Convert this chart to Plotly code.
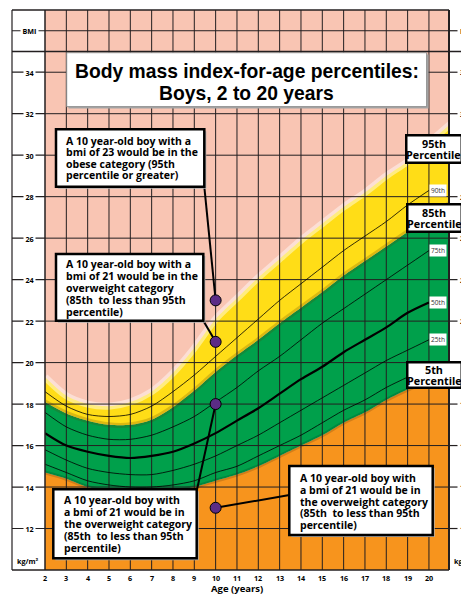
import plotly.graph_objects as go

# ---------------- data ----------------
line_ages = list(range(2, 21))          # ages for percentile curves
band_ages = list(range(2, 22))          # colour bands run to the chart edge
p5_band  = [14.7, 14.4, 14.0, 13.8, 13.7, 13.7, 13.8, 14.0, 14.3, 14.6, 15.0, 15.5, 16.0, 16.5, 17.1, 17.6, 18.2, 18.7, 19.1, 19.6]
p85_band = [18.1, 17.55, 17.2, 17.0, 17.0, 17.25, 17.85, 18.65, 19.55, 20.35, 21.1, 21.9, 22.65, 23.4, 24.2, 24.9, 25.6, 26.3, 27.0, 27.7]
p95_band = [19.3, 18.4, 18.0, 17.9, 18.1, 18.6, 19.5, 20.7, 22.1, 23.1, 24.1, 25.0, 25.9, 26.7, 27.5, 28.2, 29.0, 29.7, 30.6, 31.5]
p10 = [15.1, 14.7, 14.3, 14.1, 14.0, 14.0, 14.1, 14.3, 14.7, 15.0, 15.5, 16.0, 16.5, 17.1, 17.7, 18.2, 18.8, 19.3, 19.8]
p25 = [15.8, 15.3, 14.9, 14.7, 14.6, 14.6, 14.8, 15.1, 15.5, 16.0, 16.5, 17.1, 17.7, 18.3, 18.9, 19.5, 20.1, 20.6, 21.1]
p50 = [16.6, 16.0, 15.7, 15.5, 15.4, 15.5, 15.7, 16.1, 16.6, 17.2, 17.8, 18.5, 19.2, 19.8, 20.5, 21.1, 21.7, 22.4, 22.9]
p75 = [17.6, 16.9, 16.5, 16.3, 16.3, 16.5, 16.9, 17.4, 18.1, 18.8, 19.6, 20.3, 21.1, 21.9, 22.6, 23.3, 24.0, 24.7, 25.4]
p90 = [18.6, 17.9, 17.5, 17.4, 17.5, 17.9, 18.6, 19.4, 20.3, 21.2, 22.1, 23.0, 23.8, 24.6, 25.4, 26.1, 26.8, 27.6, 28.3]

example_ages = [10, 10, 10, 10]
example_bmi = [23, 21, 18, 13]

age_ticks = list(range(2, 21))
bmi_ticks = list(range(12, 36, 2))
bmi_label_row = 36
small_labels = ["90th", "75th", "50th", "25th"]

callouts = [
    ["A 10 year-old boy with a", "bmi of 23 would be in the", "obese category (95th", "percentile or greater)"],
    ["A 10 year-old boy with a", "bmi of 21 would be in the", "overweight category", "(85th  to less than 95th", "percentile)"],
    ["A 10 year-old boy with", "a bmi of 21 would be in", "the overweight category", "(85th  to less than 95th", "percentile)"],
    ["A 10 year-old boy with", "a bmi of 21 would be in", "the overweight category", "(85th  to less than 95th", "percentile)"],
]
title_lines = ["Body mass index-for-age percentiles:", "Boys, 2 to 20 years"]

# ---------------- style / layout ----------------
OFF = 8                      # page body margin of the html page
W, H = 469 - OFF, 594 - OFF
PL, PT = 45, 10              # plot area top-left in page pixels
PW, PH = 404, 560
L, T = PL - OFF, PT - OFF
R, B = W - L - PW, H - T - PH
X0, X1 = 2, 20.94
Y0, Y1 = 10, 37

PINK = "#F9C5B3"
YELLOW = "#FFDD17"
GREEN = "#00A04B"
ORANGE = "#F7941D"
INK = "#231F20"
PURPLE = "#5B2C86"
FONT = "Open Sans"


def px(xp):  # page pixel x -> paper
    return (xp - PL) / PW


def py(yp):  # page pixel y -> paper
    return (PT + PH - yp) / PH


def dx(xp):  # page pixel x -> age
    return X0 + (xp - PL) / PW * (X1 - X0)


def dy(yp):  # page pixel y -> BMI
    return Y1 - (yp - PT) / PH * (Y1 - Y0)


fig = go.Figure()
spl = dict(shape="spline", smoothing=0.8)
fig.add_trace(go.Scatter(x=band_ages, y=p5_band, mode="lines", fill="tozeroy", fillcolor=ORANGE,
                         line=dict(width=0, color=ORANGE, **spl), hoverinfo="skip"))
fig.add_trace(go.Scatter(x=band_ages, y=p85_band, mode="lines", fill="tonexty", fillcolor=GREEN,
                         line=dict(width=0, color=GREEN, **spl), hoverinfo="skip"))
fig.add_trace(go.Scatter(x=band_ages, y=p95_band, mode="lines", fill="tonexty", fillcolor=YELLOW,
                         line=dict(width=0, color=YELLOW, **spl), hoverinfo="skip"))

# soft edges of the colour bands
for vals, col, w in [(p95_band, "rgba(255,255,255,0.45)", 7),
                     (p85_band, "rgba(90,60,0,0.22)", 5),
                     (p5_band, "rgba(0,0,0,0.15)", 4)]:
    fig.add_trace(go.Scatter(x=band_ages, y=vals, mode="lines",
                             line=dict(width=w, color=col, **spl), hoverinfo="skip"))

# grid (drawn on top of the bands)
gx, gy = [], []
for a in age_ticks[1:]:
    gx += [a, a, None]
    gy += [Y0, Y1, None]
for b in bmi_ticks + [bmi_label_row]:
    gx += [X0, X1, None]
    gy += [b, b, None]
fig.add_trace(go.Scatter(x=gx, y=gy, mode="lines", line=dict(color=INK, width=1), hoverinfo="skip"))

for vals, w in [(p10, 0.8), (p25, 0.8), (p75, 0.8), (p90, 0.8), (p50, 2.2)]:
    fig.add_trace(go.Scatter(x=line_ages, y=vals, mode="lines",
                             line=dict(color="#000", width=w, **spl), hoverinfo="skip"))

shapes = []
annotations = []

# connectors from callout boxes to the points
conn_start = [(204.3, 186.7), (203.3, 320.7), (197.0, 489.5), (289.5, 495.0)]
for (sx, sy), a, b in zip(conn_start, example_ages, example_bmi):
    fig.add_trace(go.Scatter(x=[dx(sx), a], y=[dy(sy), b], mode="lines",
                             line=dict(color="#000", width=2), hoverinfo="skip"))

fig.add_trace(go.Scatter(x=example_ages, y=example_bmi, mode="markers",
                         marker=dict(size=11, color=PURPLE, line=dict(color="#000", width=1)),
                         hoverinfo="skip"))


def rect(x0, y0, x1, y1, lw=2.5, fill="white", col="#000"):
    shapes.append(dict(type="rect", xref="paper", yref="paper", x0=px(x0), x1=px(x1), y0=py(y0), y1=py(y1),
                       fillcolor=fill, line=dict(color=col, width=lw), layer="above"))


def hline(x0, x1, yv, lw=1.2):
    shapes.append(dict(type="line", xref="paper", yref="y", x0=px(x0), x1=px(x1), y0=yv, y1=yv,
                       line=dict(color=INK, width=lw), layer="above"))


def vline(xp, y0p, y1p, lw=1.5):
    shapes.append(dict(type="line", xref="paper", yref="paper", x0=px(xp), x1=px(xp), y0=py(y0p), y1=py(y1p),
                       line=dict(color=INK, width=lw), layer="above"))


# frame
vline(12, 10, 570, 1.2)
vline(45, 10, 570, 1.5)
vline(449, 10, 570, 2)
shapes.append(dict(type="line", xref="paper", yref="paper", x0=px(12), x1=px(449), y0=1, y1=1,
                   line=dict(color=INK, width=1.5), layer="above"))
shapes.append(dict(type="line", xref="paper", yref="paper", x0=px(12), x1=px(449), y0=0, y1=0,
                   line=dict(color=INK, width=1.5), layer="above"))
hline(12, 469, 35, lw=1.5)

# tick dashes
for b in bmi_ticks + [bmi_label_row]:
    hline(12, 45, b)
    hline(449, 457.5, b)

# title box
rect(68.5, 54.5, 428.5, 108.5, lw=0, fill="#a8a8a8")
rect(66.7, 52.7, 426.7, 106.7, lw=1, fill="white", col="#888")

# callout boxes
box_px = [(56, 129.3, 204.3, 186.7), (56, 254, 203.3, 320.7), (53.3, 489.3, 196.7, 558.3), (289.3, 466, 432.7, 535)]
for (x0, y0, x1, y1) in box_px:
    rect(x0 + 2, y0 + 2, x1 + 2, y1 + 2, lw=0, fill="#b0b0b0")
    rect(x0, y0, x1, y1, lw=2.5)

text_pos = [(64, 140.7, 11.45), (64, 264, 11.9), (61.7, 500, 12.1), (297.7, 478, 11.75)]
for lines, (tx, ty, sp) in zip(callouts, text_pos):
    for i, t in enumerate(lines):
        annotations.append(dict(xref="paper", yref="paper", x=px(tx), y=py(ty + i * sp), text=t,
                                xanchor="left", yanchor="middle", showarrow=False,
                                font=dict(family=FONT, size=10.5, color="#000", weight="bold")))

# title text
for t, ty in zip(title_lines, [71.5, 93]):
    annotations.append(dict(xref="paper", yref="paper", x=px(246.7), y=py(ty), text=t, showarrow=False,
                            xanchor="center", yanchor="middle",
                            font=dict(family="Liberation Sans", size=19.3, color="#000", weight="bold")))

tick_font = dict(family=FONT, size=7.2, color="#000", weight="bold")
# axis labels
for b in bmi_ticks + [bmi_label_row]:
    t = "BMI" if b == bmi_label_row else str(b)
    annotations.append(dict(xref="paper", yref="y", x=px(29), y=b, text=t, showarrow=False,
                            xanchor="center", yanchor="middle", bgcolor="white", borderpad=1.5,
                            font=tick_font))
    annotations.append(dict(xref="paper", yref="y", x=px(459), y=b, text=t, showarrow=False,
                            xanchor="left", yanchor="middle", bgcolor="white", borderpad=0,
                            font=tick_font))
annotations.append(dict(xref="paper", yref="paper", x=px(28), y=py(560.5), text="kg/m²", showarrow=False,
                        xanchor="center", yanchor="middle", font=tick_font))
annotations.append(dict(xref="paper", yref="paper", x=px(452), y=py(561), text="kg/m²", showarrow=False,
                        xanchor="left", yanchor="middle", font=tick_font))
for a in age_ticks:
    annotations.append(dict(xref="x", yref="paper", x=a, y=py(577.5), text=str(a), showarrow=False,
                            xanchor="center", yanchor="middle", font=tick_font))
annotations.append(dict(xref="x", yref="paper", x=11, y=py(588.5), text="Age (years)", showarrow=False,
                        xanchor="center", yanchor="middle",
                        font=dict(family=FONT, size=9.5, color="#000", weight="bold")))

# percentile end labels
for lab, vals in zip(small_labels, [p90, p75, p50, p25]):
    annotations.append(dict(xref="paper", yref="y", x=px(437.5), y=vals[-1], text=lab, showarrow=False,
                            xanchor="center", yanchor="middle", bgcolor="white", borderpad=1,
                            font=dict(family=FONT, size=6.6, color="#333")))

# big percentile boxes
pbox = [("95th", 406, 135, 461.7, 163.3), ("85th", 406.7, 204, 461.7, 231.7), ("5th", 406.7, 361.7, 461.7, 388)]
for lab, x0, y0, x1, y1 in pbox:
    annotations.append(dict(xref="paper", yref="paper", x=px((x0 + x1) / 2), y=py((y0 + y1) / 2), text=" ",
                            showarrow=False, xanchor="center", yanchor="middle",
                            width=x1 - x0 - 3, height=y1 - y0 - 3, bgcolor="white",
                            bordercolor="#000", borderwidth=2.5, borderpad=0,
                            font=dict(size=6)))
    cy = (y0 + y1) / 2
    annotations.append(dict(xref="paper", yref="paper", x=px((x0 + x1) / 2), y=py(cy - 5.3), text=lab,
                            showarrow=False, xanchor="center", yanchor="middle",
                            font=dict(family=FONT, size=10.8, color="#000", weight="bold")))
    annotations.append(dict(xref="paper", yref="paper", x=px((x0 + x1) / 2), y=py(cy + 5.7), text="Percentile",
                            showarrow=False, xanchor="center", yanchor="middle",
                            font=dict(family=FONT, size=10.8, color="#000", weight="bold")))

fig.update_layout(
    width=W, height=H,
    margin=dict(l=L, r=R, t=T, b=B, pad=0),
    paper_bgcolor="white", plot_bgcolor=PINK,
    showlegend=False,
    xaxis=dict(range=[X0, X1], showgrid=False, zeroline=False, showline=False,
               showticklabels=False, ticks=""),
    yaxis=dict(range=[Y0, Y1], showgrid=False, zeroline=False, showline=False,
               showticklabels=False, ticks=""),
    shapes=shapes,
    annotations=annotations,
)

fig.write_html("out.html")
